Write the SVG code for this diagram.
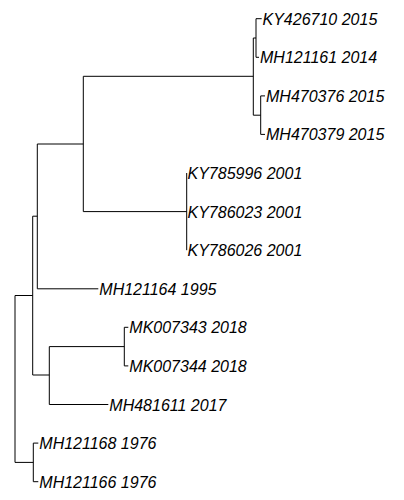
<svg xmlns="http://www.w3.org/2000/svg" width="404" height="500" viewBox="0 0 404 500">
  <style>
    .edge { fill: none; stroke: #000; stroke-width: 1; }
    .tip text { font-family: "Liberation Sans", Arial, sans-serif; font-style: italic; font-size: 16px; fill: #000; }
  </style>
  <rect width="404" height="500" fill="#fff"/>

  <!-- branches of the rectangular tree -->
  <g id="connectors">
    <!-- root -->
    <path class="edge" d="M15,295.5 V462.4"/>
    <path class="edge" d="M15,295.5 H32.7 M32.7,216.2 V375"/>
    <path class="edge" d="M15,462.4 H33.3 M33.3,443.1 V481.7"/>
    <path class="edge" d="M33.3,443.1 H38.3 M33.3,481.7 H38.3"/>
    <!-- upper lineage -->
    <path class="edge" d="M32.7,216.2 H37.3 M37.3,144 V288.8"/>
    <path class="edge" d="M37.3,288.8 H98.3"/>
    <path class="edge" d="M37.3,144 H83.3 M83.3,76.3 V211.6"/>
    <!-- 2014-2015 clade -->
    <path class="edge" d="M83.3,76.3 H253.3 M253.3,38 V115.2"/>
    <path class="edge" d="M253.3,38 H256 M256,18.7 V57.3"/>
    <path class="edge" d="M256,18.7 H261.7 M256,57.3 H259"/>
    <path class="edge" d="M253.3,115.2 H260.7 M260.7,95.9 V134.4"/>
    <path class="edge" d="M260.7,95.9 H265 M260.7,134.4 H265"/>
    <!-- 2001 clade -->
    <path class="edge" d="M83.3,211.6 H186.7 M186.7,173 V250.2"/>
    <!-- 2017-2018 lineage -->
    <path class="edge" d="M32.7,375 H49.3 M49.3,346.6 V404.5"/>
    <path class="edge" d="M49.3,346.6 H124.3 M124.3,327.3 V365.9"/>
    <path class="edge" d="M124.3,327.3 H128.3 M124.3,365.9 H128.3"/>
    <path class="edge" d="M49.3,404.5 H108.3"/>
  </g>

  <!-- tip labels -->
  <g id="KY426710" class="tip"><text x="262.5" y="24.7">KY426710 2015</text></g>
  <g id="MH121161" class="tip"><text x="260" y="63.3">MH121161 2014</text></g>
  <g id="MH470376" class="tip"><text x="266" y="101.9">MH470376 2015</text></g>
  <g id="MH470379" class="tip"><text x="266" y="140.4">MH470379 2015</text></g>
  <g id="KY785996" class="tip"><text x="187.5" y="179">KY785996 2001</text></g>
  <g id="KY786023" class="tip"><text x="187.5" y="217.6">KY786023 2001</text></g>
  <g id="KY786026" class="tip"><text x="187.5" y="256.2">KY786026 2001</text></g>
  <g id="MH121164" class="tip"><text x="99.3" y="294.8">MH121164 1995</text></g>
  <g id="MK007343" class="tip"><text x="129.3" y="333.3">MK007343 2018</text></g>
  <g id="MK007344" class="tip"><text x="129.3" y="371.9">MK007344 2018</text></g>
  <g id="MH481611" class="tip"><text x="109.3" y="410.5">MH481611 2017</text></g>
  <g id="MH121168" class="tip"><text x="39.3" y="449.1">MH121168 1976</text></g>
  <g id="MH121166" class="tip"><text x="39.3" y="487.7">MH121166 1976</text></g>
</svg>
